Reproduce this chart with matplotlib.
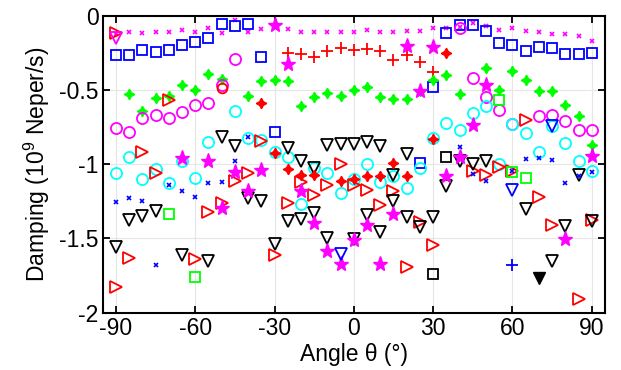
import numpy as np
import matplotlib
matplotlib.use('Agg')
import matplotlib.pyplot as plt
from matplotlib.ticker import FuncFormatter

plt.rcParams['font.family'] = ['Liberation Sans', 'DejaVu Sans']
plt.rcParams['mathtext.fontset'] = 'custom'
plt.rcParams['mathtext.rm'] = 'Liberation Sans'
plt.rcParams['axes.unicode_minus'] = False

# angle axis (degrees)
angles = [-90, -85, -80, -75, -70, -65, -60, -55, -50, -45, -40, -35, -30, -25, -20, -15, -10, -5, 0,
          5, 10, 15, 20, 25, 30, 35, 40, 45, 50, 55, 60, 65, 70, 75, 80, 85, 90]

# damping values (1e9 Neper/s)
mag_x = [-0.12, -0.108, -0.119, -0.112, -0.107, -0.096, -0.107, -0.085, -0.118, -0.029, -0.112, -0.092,
         -0.063, -0.092, -0.112, -0.112, -0.112, -0.112, -0.107, -0.096, -0.112, -0.112, -0.101, -0.101,
         -0.085, -0.085, -0.074, -0.051, -0.069, -0.096, -0.085, -0.101, -0.107, -0.123, -0.123, -0.137, -0.168]

cyan_o = [-1.06, -0.955, -1.10, -1.034, -1.124, -0.98, -1.094, -0.852, np.nan, -0.64, -0.825, -0.84,
          -0.92, -0.95, -1.27, -1.027, -1.06, -1.195, -1.10, -0.998, -1.12, -1.08, -1.16, -1.027,
          -0.825, -0.724, -0.77, -0.653, -0.607, -1.0, -0.73, -0.79, -0.915, -0.742, -0.855, -0.98, -1.043]

blue_sq_ang = [-90, -85, -80, -75, -70, -65, -60, -55, -50, -45, -40, -35, -30, 25, 30,
               35, 40, 45, 50, 55, 60, 65, 70, 75, 80, 85, 90]
blue_sq = [-0.265, -0.265, -0.231, -0.242, -0.231, -0.2, -0.175, -0.148, -0.056, -0.067, -0.056, -0.28,
           -0.78, -0.99, -0.48, -0.118, -0.063, -0.063, -0.103, -0.186, -0.195, -0.238, -0.21, -0.215,
           -0.26, -0.26, -0.25]

red_plus_ang = [-25, -20, -15, -10, -5, 0, 5, 10, 15, 20, 25, 30]
red_plus = [-0.249, -0.26, -0.28, -0.235, -0.22, -0.233, -0.222, -0.235, -0.30, -0.265, -0.31, -0.38]

green_star_ang = [-85, -80, -75, -70, -65, -60, -55, -50, -40, -35, -30, -25, -20, -15, -10, -5, 0,
                  5, 10, 15, 20, 25, 30, 35, 40, 50, 55, 60, 65, 70, 75, 80, 85, 90]
green_star = [-0.527, -0.64, -0.556, -0.54, -0.47, -0.5, -0.39, -0.426, -0.54, -0.44, -0.43, -0.44,
              -0.605, -0.55, -0.52, -0.54, -0.50, -0.478, -0.55, -0.563, -0.56, -0.505, -0.43, -0.40,
              -0.53, -0.352, -0.5, -0.37, -0.43, -0.505, -0.505, -0.6, -0.678, -0.87]

mag_o_ang = [-90, -85, -80, -75, -70, -65, -60, -55, -50, -45, 40, 45, 50, 55, 60, 70, 75, 80, 85, 90]
mag_o = [-0.758, -0.78, -0.69, -0.672, -0.69, -0.652, -0.60, -0.585, -0.466, -0.293, -0.085, -0.417,
         -0.545, -0.635, -0.73, -0.673, -0.67, -0.71, -0.77, -0.77]

red_o_ang = [-50]
red_o = [-0.489]

red_tri_ang = [-90, -90, -85, -80, -75, -70, -60, -55, -50, -45, -40, -35, -30, -25, -20, -15, -10, -5, 0,
               5, 10, 15, 20, 25, 30, 45, 50, 55, 60, 65, 70, 75, 85, 90]
red_tri = [-0.114, -1.828, -1.633, -0.915, -1.06, -0.567, -1.64, -1.325, -1.262, -1.113, -1.06, -0.843,
           -1.61, -1.262, -1.117, -1.207, -1.14, -1.0, -1.14, -1.173, -1.274, -1.184, -1.69, -1.39,
           -1.543, -1.045, -1.072, -1.02, -1.043, -0.705, -1.22, -1.413, -1.908, -1.375]

black_tri_ang = [-90, -85, -80, -75, -65, -55, -50, -45, -40, -35, -30, -25, -25, -20, -20, -15, -15,
                 -10, -10, -5, 0, 0, 5, 5, 10, 10, 15, 15, 20, 20, 25, 30, 35, 40, 45, 50,
                 65, 75, 80, 85, 90]
black_tri = [-1.555, -1.375, -1.35, -1.316, -1.61, -1.65, -0.82, -0.88, -1.23, -1.247, -1.536, -0.892,
             -1.383, -0.982, -1.366, -1.027, -1.328, -0.87, -1.494, -0.863, -0.863, -1.507, -0.848,
             -1.341, -0.877, -1.46, -1.072, -1.25, -0.93, -1.353, -1.425, -1.353, -1.146, -0.982,
             -0.998, -0.976, -1.305, -1.655, -1.418, -1.072, -1.383]

black_tri_filled_ang = [70]
black_tri_filled = [-1.767]

mag_star_ang = [-65, -55, -50, -45, -40, -35, -30, -25, -20, -15, -10, -5, 0, 5, 10, 15, 20, 25, 30,
                35, 40, 45, 50, 80, 90]
mag_star = [-0.96, -0.982, -1.296, -1.05, -1.18, -1.038, -0.063, -0.325, -1.178, -1.397, -1.583, -1.673,
            -1.51, -1.408, -1.673, -1.335, -0.204, -0.509, -0.208, -1.079, -0.949, -0.733, -0.466,
            -1.502, -0.947]

blue_x_ang = [-90, -85, -80, -75, -70, -65, -60, -55, -50, -45, -40, 40, 45, 50, 60, 65, 70, 75, 80, 85, 90]
blue_x = [-1.252, -1.229, -1.247, -1.682, -1.14, -1.184, -1.222, -1.128, -1.121, -0.982, -0.818, -0.883,
          -1.068, -1.11, -1.043, -0.966, -0.96, -0.971, -1.128, -1.083, -1.054]

red_star_ang = [-35, -30, -25, -20, -15, -5, 0, 5, 10, 15, 20, 30, 35]
red_star = [-0.585, -0.922, -1.034, -1.072, -1.072, -1.11, -1.10, -1.079, -1.079, -0.993, -1.079, -0.832, -0.25]

green_sq_ang = [-70, -60, 55, 60, 65]
green_sq = [-1.336, -1.763, -0.567, -1.05, -1.094]

black_sq_ang = [30, 35]
black_sq = [-1.738, -0.953]

blue_tri_ang = [-5, 60, 75]
blue_tri = [-1.604, -1.173, -0.742]

blue_plus_ang = [60]
blue_plus = [-1.678]

mag_tri_ang = [-90]
mag_tri = [-0.152]

fig = plt.figure(figsize=(6.21, 3.70), dpi=100)
ax = fig.add_axes([0.1654, 0.155, 0.8088, 0.8026])

hollow = dict(linestyle='none', markerfacecolor='none', markeredgewidth=1.3)

ax.plot(angles, mag_x, 'x', color='#ff00ff', ms=3.5, mew=1.2, linestyle='none')
ax.plot(blue_sq_ang, blue_sq, 's', color='#0000ff', ms=7, **hollow)
ax.plot(red_plus_ang, red_plus, '+', color='#ff0000', ms=8, mew=1.3, linestyle='none')
ax.plot(green_star_ang, green_star, marker=(4, 1, 0), color='#00ff00', ms=7.5, linestyle='none')
ax.plot(mag_o_ang, mag_o, 'o', color='#ff00ff', ms=8, **hollow)
ax.plot(red_o_ang, red_o, 'o', color='#ff0000', ms=7, **hollow)
ax.plot(angles, cyan_o, 'o', color='#00ffff', ms=8, **hollow)
ax.plot(red_tri_ang, red_tri, '>', color='#ff0000', ms=8, **hollow)
ax.plot(black_tri_ang, black_tri, 'v', color='black', ms=8, **hollow)
ax.plot(black_tri_filled_ang, black_tri_filled, 'v', color='black', ms=8, linestyle='none')
ax.plot(mag_star_ang, mag_star, '*', color='#ff00ff', ms=11, linestyle='none')
ax.plot(blue_x_ang, blue_x, 'x', color='#0000ff', ms=3.5, mew=1.2, linestyle='none')
ax.plot(red_star_ang, red_star, marker=(4, 1, 0), color='#ff0000', ms=7.5, linestyle='none')
ax.plot(green_sq_ang, green_sq, 's', color='#00ff00', ms=7, **hollow)
ax.plot(black_sq_ang, black_sq, 's', color='black', ms=7, **hollow)
ax.plot(blue_tri_ang, blue_tri, 'v', color='#0000ff', ms=8, **hollow)
ax.plot(blue_plus_ang, blue_plus, '+', color='#0000ff', ms=8, mew=1.3, linestyle='none')
ax.plot(mag_tri_ang, mag_tri, 'v', color='#ff00ff', ms=8, **hollow)

ax.set_xlim(-95, 95)
ax.set_ylim(-2, 0)
ax.set_xticks([-90, -60, -30, 0, 30, 60, 90])
ax.set_yticks([-2, -1.5, -1, -0.5, 0])
ax.yaxis.set_major_formatter(FuncFormatter(lambda v, p: '%g' % v))

ax.grid(True, color='#e6e6e6', linewidth=0.8)
ax.set_axisbelow(True)
for s in ax.spines.values():
    s.set_linewidth(1.5)
ax.tick_params(direction='in', top=True, right=True, length=5, width=1.3, labelsize=16.5, pad=3)

ax.set_xlabel('Angle θ (°)', fontsize=16.5, labelpad=2)
ax.set_ylabel('Damping (10$^{9}$ Neper/s)', fontsize=16.5, labelpad=5)

fig.savefig('out.png', dpi=100)
